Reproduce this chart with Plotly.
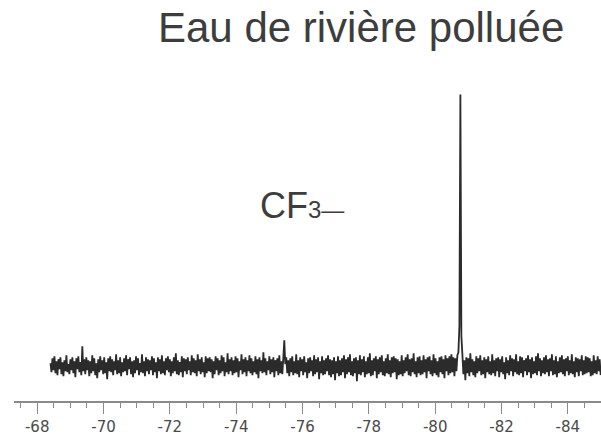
import numpy as np
import plotly.graph_objects as go

# Chemical-shift axis of the spectrum (ppm)
ppm_start = -68.40
ppm_step = -0.03

# 19F signal intensity (arbitrary units ~ px above baseline)
intensity = [
    3,-6,8,-4,10,-7,5,-9,7,-3,9,-8,4,-10,6,-5,11,-6,2,-8,
    7,-4,9,-7,5,-11,8,-3,10,-6,4,-9,20,-5,7,-8,9,-4,6,-10,
    5,-7,11,-5,8,-9,3,-12,7,-6,10,-4,6,-8,9,-7,4,-13,8,-5,
    10,-6,7,-9,5,-4,12,-8,6,-7,9,-10,4,-6,8,-5,11,-9,7,-3,
    9,-8,5,-11,6,-7,10,-4,8,-9,3,-6,12,-7,5,-10,9,-5,7,-8,
    6,-4,10,-9,8,-6,4,-12,9,-5,7,-8,11,-7,5,-9,8,-4,10,-6,
    7,-10,5,-7,9,-5,13,-8,6,-9,4,-6,10,-11,8,-5,7,-8,9,-4,
    5,-9,11,-6,8,-7,6,-10,12,-5,7,-8,9,-6,4,-11,10,-7,8,-5,
    9,-6,7,-12,5,-8,10,-4,8,-9,6,-7,11,-5,9,-10,4,-6,13,-8,
    7,-5,9,-9,6,-7,10,-6,8,-11,5,-4,12,-8,7,-6,9,-10,6,-5,
    11,-7,8,-9,5,-6,10,-8,7,-12,9,-5,6,-7,14,-6,8,-9,5,-4,
    10,-8,7,-6,9,-11,6,-5,8,-9,11,-7,5,-8,8,26,2,9,-7,6,
    -10,8,-6,10,-9,5,-7,12,-8,6,-11,9,-5,7,-9,10,-6,4,-12,8,
    -7,9,-5,6,-10,11,-8,7,-6,9,-13,5,-7,10,-9,6,-8,8,-5,11,
    -9,7,-11,6,-8,9,-14,5,-7,10,-10,6,-9,8,-6,11,-12,7,-8,9,
    -6,12,-9,5,-10,8,-7,9,-15,6,-8,11,-9,7,-6,10,-11,5,-8,9,
    -7,13,-10,6,-9,8,-5,10,-12,7,-8,9,-6,11,-9,5,-10,8,-7,12,
    -8,6,-11,9,-7,10,-6,8,-13,7,-9,5,-8,11,-10,6,-7,9,-5,12,
    -9,7,-10,8,-6,13,-8,5,-11,9,-7,10,-9,6,-8,11,-6,7,-12,9,
    -5,10,-8,6,-10,12,-7,8,-9,5,-11,9,-6,10,-8,7,-12,11,-5,8,
    -9,10,-7,12,-6,9,-10,8,-5,11,14,40,273,30,12,-8,6,-14,9,-7,
    8,-10,13,-6,7,-9,5,-11,10,-7,8,-5,11,-9,6,-8,9,-12,7,-6,
    10,-8,5,-9,12,-7,6,-10,8,-5,9,-11,7,-6,10,-8,4,-13,9,-7,
    6,-9,11,-5,8,-10,7,-6,12,-8,5,-9,10,-7,9,-11,6,-5,8,-9,
    11,-6,7,-12,9,-8,5,-7,10,-9,13,-5,8,-10,6,-7,9,-8,11,-6,
    7,-10,8,-5,12,-9,6,-8,10,-11,5,-7,9,-6,11,-8,7,-10,8,-5,
    10,-9,6,-7,12,-8,5,-11,9,-6,8,-10,7,-5,11,-9,6,-8,10,-7,
    9,-6,8,-10,5,-9,11,-7,6,-8,10,-5,7,-9,
]

tick_values = [-68, -70, -72, -74, -76, -78, -80, -82, -84]
tick_labels = ["-68", "-70", "-72", "-74", "-76", "-78", "-80", "-82", "-84"]

title_text = "Eau de rivière polluée"
peak_label = "CF<span style='font-size:24px'>3</span><span style='font-size:23px'>—</span>"

ppm = ppm_start + ppm_step * np.arange(len(intensity))

W, H = 601, 436
ml, mr, mt, mb = 14, 0, 0, 33
pw, ph = W - ml - mr, H - mt - mb

def px(xp):
    return (xp - ml) / pw

def py(yp):
    return (H - mb - yp) / ph

fig = go.Figure()
fig.add_trace(go.Scatter(
    x=ppm, y=intensity, mode="lines",
    line=dict(color="#2b2b2b", width=1.8),
    hoverinfo="skip", showlegend=False,
))

fig.update_layout(
    width=W, height=H,
    margin=dict(l=ml, r=mr, t=mt, b=mb, pad=0),
    paper_bgcolor="white", plot_bgcolor="white",
    xaxis=dict(
        range=[-67.30, -85.0],
        showgrid=False, zeroline=False,
        showline=True, linecolor="#8a8a8a", linewidth=1.5,
        ticks="outside", ticklen=11, tickwidth=1.2, tickcolor="#8a8a8a",
        tickvals=tick_values, ticktext=tick_labels,
        tickfont=dict(family="DejaVu Sans", size=15, color="#4a4a4a"),
        minor=dict(dtick=0.5, tick0=-68, ticks="outside", ticklen=5,
                   tickwidth=1.2, tickcolor="#8a8a8a", showgrid=False),
        fixedrange=True,
    ),
    yaxis=dict(
        range=[-35, 368], visible=False, showgrid=False, zeroline=False,
        fixedrange=True,
    ),
    annotations=[
        dict(text=title_text, xref="paper", yref="paper",
             x=px(361), y=py(28), xanchor="center", yanchor="middle",
             showarrow=False,
             font=dict(family="Liberation Sans, Arial", size=42, color="#3d3d3d")),
        dict(text=peak_label, xref="paper", yref="paper",
             x=px(302), y=py(207), xanchor="center", yanchor="middle",
             showarrow=False,
             font=dict(family="Liberation Sans, Arial", size=36, color="#3d3d3d")),
    ],
)

fig.write_html("out.html", config={"displayModeBar": False},
               post_script="document.body.style.margin='0';")
